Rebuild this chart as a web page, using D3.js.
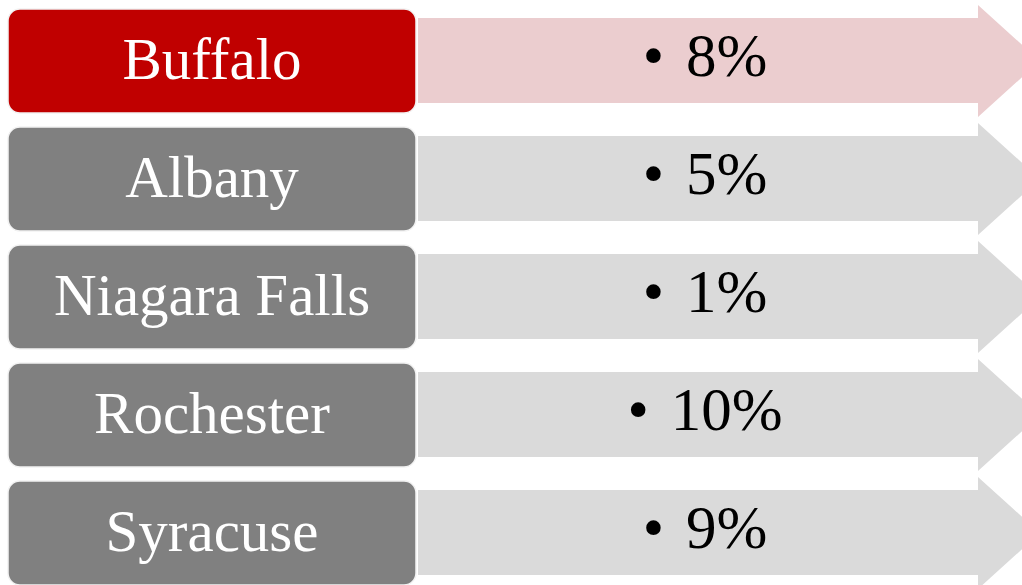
<!DOCTYPE html>
<html>
<head>
<meta charset="utf-8">
<script src="https://cdn.jsdelivr.net/npm/d3@7"></script>
<style>
  html, body { margin: 0; padding: 0; background: #fff; }
</style>
</head>
<body>
<div id="wrapper"></div>
<script>
const cities = ["Buffalo", "Albany", "Niagara Falls", "Rochester", "Syracuse"];
const shares = [8, 5, 1, 10, 9];
const highlighted = ["Buffalo"];

const BOX_COLOR = "#808080";
const BOX_HIGHLIGHT = "#c00000";
const ARROW_COLOR = "#dadada";
const ARROW_HIGHLIGHT = "#ebcdcf";
const FONT_FAMILY = "'Liberation Serif', 'DejaVu Serif', serif";

const dimensions = { width: 1022, height: 585 };

const data = cities.map((c, i) => ({ city: c, share: shares[i] }));

const svg = d3.select("#wrapper")
    .append("svg")
    .attr("width", dimensions.width)
    .attr("height", dimensions.height);

const yScale = d3.scaleBand()
    .domain(cities)
    .range([9, 585])
    .paddingInner(14 / 118);

const boxLeft = 8;
const boxRight = 416;
const arrowLeft = 418;
const arrowNeck = 978;
const headLen = 62;

const rows = svg.selectAll("g.row")
    .data(data)
    .enter().append("g")
    .attr("class", "row")
    .attr("transform", d => `translate(0, ${yScale(d.city)})`);

const bw = yScale.bandwidth();

// arrows
rows.append("path")
    .attr("d", () => {
        const top = 9, bot = bw - 10, hTop = -4, hBot = bw + 4, mid = bw / 2;
        return `M${arrowLeft},${top} L${arrowNeck},${top} L${arrowNeck},${hTop}
                L${arrowNeck + headLen},${mid} L${arrowNeck},${hBot}
                L${arrowNeck},${bot} L${arrowLeft},${bot} Z`;
    })
    .attr("fill", d => highlighted.includes(d.city) ? ARROW_HIGHLIGHT : ARROW_COLOR);

// boxes
rows.append("rect")
    .attr("x", boxLeft)
    .attr("y", 0)
    .attr("width", boxRight - boxLeft)
    .attr("height", bw)
    .attr("rx", 12)
    .attr("fill", d => highlighted.includes(d.city) ? BOX_HIGHLIGHT : BOX_COLOR)
    .attr("stroke", "#f2f2f2")
    .attr("stroke-width", 1.5);

rows.append("text")
    .attr("x", (boxLeft + boxRight) / 2)
    .attr("y", 70)
    .attr("text-anchor", "middle")
    .attr("fill", "#fff")
    .style("font-family", FONT_FAMILY)
    .style("font-size", "59px")
    .text(d => d.city);

const labels = rows.append("text")
    .attr("x", 705)
    .attr("y", 67)
    .attr("text-anchor", "middle")
    .attr("fill", "#000")
    .style("font-family", FONT_FAMILY)
    .style("font-size", "61px");

labels.append("tspan").text("•");
labels.append("tspan").attr("dx", 22).text(d => `${d.share}%`);
</script>
</body>
</html>
